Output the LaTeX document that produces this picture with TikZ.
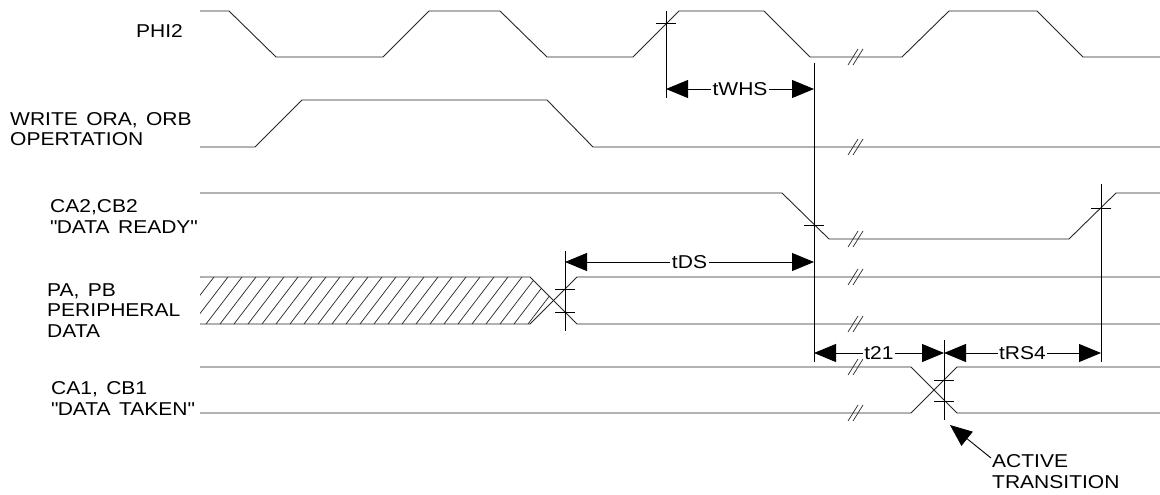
\documentclass[tikz,border=0pt]{standalone}
\usepackage{fontspec}
\setmainfont{Liberation Sans}[FakeStretch=1.13]
\usetikzlibrary{arrows.meta}
\definecolor{Ink}{HTML}{262626}
\newcommand\sigfont{\fontsize{18.6}{20.5}\selectfont}
\newcommand\wgap{\hspace{0.45em}}

\begin{document}
\begin{tikzpicture}[x=1pt,y=-1pt,
  sig/.style={Ink,line width=0.9pt},
  ext/.style={black,line width=0.9pt},
  dim/.style={black,line width=0.9pt,{Triangle[length=22pt,width=18pt]}-{Triangle[length=22pt,width=18pt]}},
  dimlbl/.style={fill=white,inner sep=1.5pt,font=\sigfont},
  lbl/.style={align=left,inner sep=0pt,font=\sigfont},
  brk/.style={Ink,line width=0.7pt}]
  \useasboundingbox (0,0) rectangle (1160,495);

  % signal names (base = last line)
  \node[lbl,anchor=base east] (phi) at (183,38) {PHI2};
  \node[lbl,anchor=base west] (wr) at (10,146) {WRITE\wgap ORA,\wgap ORB\\OPERTATION};
  \node[lbl,anchor=base west] (rdy) at (50,233) {CA2,CB2\\\textquotedbl DATA\wgap READY\textquotedbl};
  \node[lbl,anchor=base west] (pd) at (47,337) {PA,\wgap PB\\PERIPHERAL\\DATA};
  \node[lbl,anchor=base west] (tkn) at (51,415) {CA1,\wgap CB1\\\textquotedbl DATA\wgap TAKEN\textquotedbl};

  % waveforms
  \draw[sig] (200,11) -- (229,11) -- (276,57) -- (383,57) -- (429,11) -- (500,11) -- (547,57)
    -- (633,57) -- (679,11) -- (764,11) -- (810,57) -- (902,57) -- (949,11) -- (1037,11)
    -- (1083,57) -- (1160,57);
  \draw[sig] (200,147) -- (255,147) -- (302,100) -- (547,100) -- (593,147) -- (1160,147);
  \draw[sig] (200,193) -- (782,193) -- (829,239) -- (1069,239) -- (1116,193) -- (1160,193);
  \begin{scope}
    \clip (200,277) -- (530,277) -- (553.5,300.5) -- (530,324) -- (200,324) -- cycle;
    \foreach \x in {164,178,...,560}
      \draw[brk] (\x,324) -- ++(36,-47);
  \end{scope}
  \draw[sig] (200,277) -- (530,277) -- (577,324) -- (1160,324);
  \draw[sig] (200,324) -- (530,324) -- (577,277) -- (1160,277);
  \draw[sig] (200,367) -- (911,367) -- (957,413) -- (1160,413);
  \draw[sig] (200,413) -- (911,413) -- (957,367) -- (1160,367);

  % breaks
  \foreach \y in {57,147,239,277,324,367,413}
    \draw[brk] (848,\y+8) -- (858,\y-8) (853,\y+8) -- (863,\y-8);

  % reference lines and crossings
  \draw[ext] (666,11) -- (666,98);
  \draw[ext] (814,63) -- (814,362);
  \draw[ext] (1101,184) -- (1101,362);
  \draw[ext] (565,251) -- (565,331);
  \draw[ext] (944,340) -- (944,420);
  \draw[ext] (656,23) -- (676,23);
  \draw[ext] (804,225) -- (824,225);
  \draw[ext] (1091,208) -- (1111,208);
  \draw[ext] (555,289) -- (575,289) (555,312) -- (575,312);
  \draw[ext] (934,380) -- (954,380) (934,401) -- (954,401);

  % timing intervals
  \coordinate (whsA) at (666,89);
  \coordinate (whsB) at (814,89);
  \coordinate (dsA) at (565,262);
  \coordinate (dsB) at (814,262);
  \coordinate (tA) at (814,353);
  \coordinate (tB) at (944,353);
  \coordinate (tC) at (1101,353);
  \draw[dim] (whsA) -- node[dimlbl] (whs) {tWHS} (whsB);
  \draw[dim] (dsA) -- node[dimlbl] (ds) {tDS} (dsB);
  \draw[dim] (tA) -- node[dimlbl] (t21) {t21} (tB);
  \draw[dim] (tB) -- node[dimlbl] (rs4) {tRS4} (tC);

  % active transition
  \node[lbl,anchor=base west] (act) at (992,488) {ACTIVE\\TRANSITION};
  \coordinate (actTip) at (950,425);
  \coordinate (actTail) at (991,458);
  \draw[black,line width=0.9pt,-{Triangle[length=22pt,width=18pt]}] (actTail) -- (actTip);
\end{tikzpicture}
\end{document}
